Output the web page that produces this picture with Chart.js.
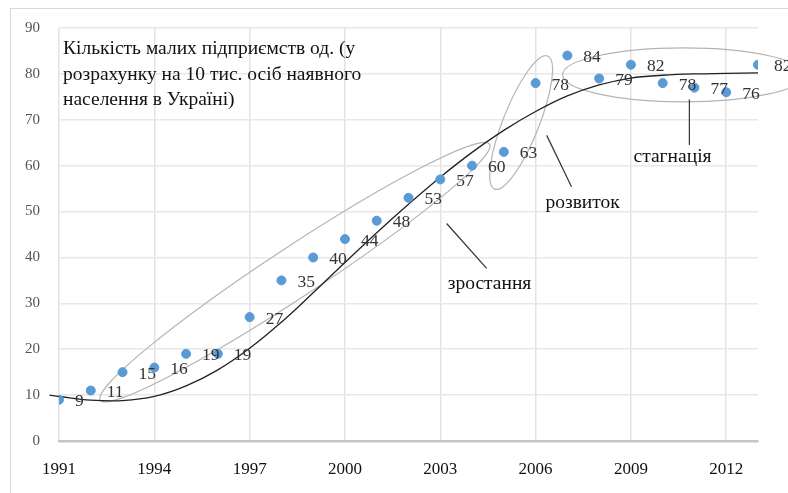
<!DOCTYPE html>
<html><head><meta charset="utf-8">
<script src="https://cdn.jsdelivr.net/npm/chart.js@4/dist/chart.umd.min.js"></script>
<style>html,body{margin:0;padding:0;background:#fff}#wrap{width:788px;height:493px;position:relative}</style>
</head><body><div id="wrap"><canvas id="c" width="788" height="493"></canvas></div>
<script>
const years = [1991,1992,1993,1994,1995,1996,1997,1998,1999,2000,2001,2002,2003,2004,2005,2006,2007,2008,2009,2010,2011,2012,2013];
const values = [9,11,15,16,19,19,27,35,40,44,48,53,57,60,63,78,84,79,82,78,77,76,82];
const trendYears = [1990.7,1991,1992,1993,1994,1995,1996,1997,1998,1999,2000,2001,2002,2003,2004,2005,2006,2007,2008,2009,2010,2011,2012,2013,2014];
const trendValues = [10.0,9.7,8.9,8.8,9.7,12.0,15.5,20.2,25.9,32.3,38.9,45.4,51.6,57.5,62.9,67.7,71.8,75.2,77.6,79.1,79.7,80.0,80.1,80.2,80.2];
const xTickValues = [1991,1994,1997,2000,2003,2006,2009,2012];
const yTickValues = [0,10,20,30,40,50,60,70,80,90];
const titleLines = ["Кількість малих підприємств од. (у","розрахунку на 10 тис. осіб наявного","населення в Україні)"];
const phaseLabels = ["зростання","розвиток","стагнація"];

const FONT = '"Liberation Serif","Times New Roman",serif';

const ellipses = [
  {x1:1992.3, y1:8.9, x2:2004.55, y2:64.7, minor:25},
  {x1:2004.71, y1:54.9, x2:2006.38, y2:83.9, minor:18},
  {x1:2006.85, y1:79.8, x2:2014.46, y2:79.8, minor:27}
];
const pointers = [
  {x1:2003.2, y1:47.4, x2:2004.46, y2:37.6, tx:2004.55, ty:34.2, text:phaseLabels[0]},
  {x1:2006.35, y1:66.6, x2:2007.13, y2:55.4, tx:2007.48, ty:51.9, text:phaseLabels[1]},
  {x1:2010.84, y1:74.4, x2:2010.84, y2:64.5, tx:2010.31, ty:61.9, text:phaseLabels[2]}
];

const annot = {
  id: 'annot',
  beforeDraw(chart) {
    const ctx = chart.ctx;
    ctx.save();
    ctx.fillStyle = '#fff';
    ctx.fillRect(0, 0, chart.width, chart.height);
    ctx.strokeStyle = '#d9d9d9';
    ctx.lineWidth = 1;
    ctx.strokeRect(10.5, 8.5, 900, 600);
    ctx.restore();
  },
  beforeDatasetsDraw(chart) {
    const ctx = chart.ctx, xs = chart.scales.x, ys = chart.scales.y;
    ctx.save();
    ctx.strokeStyle = '#b4b4b4';
    ctx.lineWidth = 1.2;
    ellipses.forEach(e => {
      const p1x = xs.getPixelForValue(e.x1), p1y = ys.getPixelForValue(e.y1);
      const p2x = xs.getPixelForValue(e.x2), p2y = ys.getPixelForValue(e.y2);
      const cx = (p1x + p2x) / 2, cy = (p1y + p2y) / 2;
      const a = Math.hypot(p2x - p1x, p2y - p1y) / 2;
      const ang = Math.atan2(p2y - p1y, p2x - p1x);
      ctx.beginPath();
      ctx.ellipse(cx, cy, a, e.minor, ang, 0, Math.PI * 2);
      ctx.stroke();
    });
    ctx.restore();
  },
  afterDatasetsDraw(chart) {
    const ctx = chart.ctx, xs = chart.scales.x, ys = chart.scales.y;
    ctx.save();
    const meta = chart.getDatasetMeta(1);
    ctx.font = '17.5px ' + FONT;
    ctx.fillStyle = '#333';
    ctx.textAlign = 'left';
    ctx.textBaseline = 'middle';
    meta.data.forEach((pt, i) => {
      ctx.fillText(String(values[i]), pt.x + 16, pt.y + 2);
    });
    ctx.strokeStyle = '#333';
    ctx.lineWidth = 1.2;
    pointers.forEach(p => {
      ctx.beginPath();
      ctx.moveTo(xs.getPixelForValue(p.x1), ys.getPixelForValue(p.y1));
      ctx.lineTo(xs.getPixelForValue(p.x2), ys.getPixelForValue(p.y2));
      ctx.stroke();
      ctx.fillStyle = '#111';
      ctx.textAlign = 'center';
      ctx.font = '19.5px ' + FONT;
      ctx.fillText(p.text, xs.getPixelForValue(p.tx), ys.getPixelForValue(p.ty));
    });
    ctx.font = '19.5px ' + FONT;
    ctx.fillStyle = '#111';
    ctx.textAlign = 'left';
    ctx.textBaseline = 'middle';
    const ca = chart.chartArea;
    titleLines.forEach((t, i) => ctx.fillText(t, ca.left + 4, ca.top + 21 + i * 25.5));
    ctx.restore();
  }
};

new Chart(document.getElementById('c'), {
  type: 'scatter',
  data: {
    datasets: [
      {
        type: 'line',
        data: trendYears.map((x, i) => ({x, y: trendValues[i]})),
        borderColor: '#222',
        borderWidth: 1.3,
        pointRadius: 0,
        tension: 0.4,
        fill: false,
        clip: false,
        order: 2
      },
      {
        data: years.map((x, i) => ({x, y: values[i]})),
        backgroundColor: '#5b9bd5',
        borderColor: '#5b9bd5',
        pointRadius: 4.5,
        pointHoverRadius: 4.5,
        order: 1
      }
    ]
  },
  options: {
    responsive: false,
    animation: false,
    devicePixelRatio: 1,
    layout: {padding: {top: 25, right: 30, left: 0, bottom: 0}},
    plugins: {legend: {display: false}, tooltip: {enabled: false}},
    scales: {
      x: {
        type: 'linear',
        min: 1991, max: 2013,
        afterBuildTicks: s => { s.ticks = xTickValues.map(v => ({value: v})); },
        afterFit: s => { s.height = 52; },
        grid: {color: '#e3e3e3', lineWidth: 1.5, drawTicks: false},
        border: {color: '#c4c4c4', width: 2.5},
        ticks: {color: '#111', font: {family: FONT, size: 17}, padding: 18, maxRotation: 0, autoSkip: false,
                callback: v => String(v)}
      },
      y: {
        min: 0, max: 90,
        afterBuildTicks: s => { s.ticks = yTickValues.map(v => ({value: v})); },
        afterFit: s => { s.width = 59; },
        grid: {color: '#e8e8e8', lineWidth: 1.5, drawTicks: false},
        border: {display: false},
        ticks: {color: '#555', font: {family: FONT, size: 15}, padding: 19}
      }
    }
  },
  plugins: [annot]
});
</script></body></html>
